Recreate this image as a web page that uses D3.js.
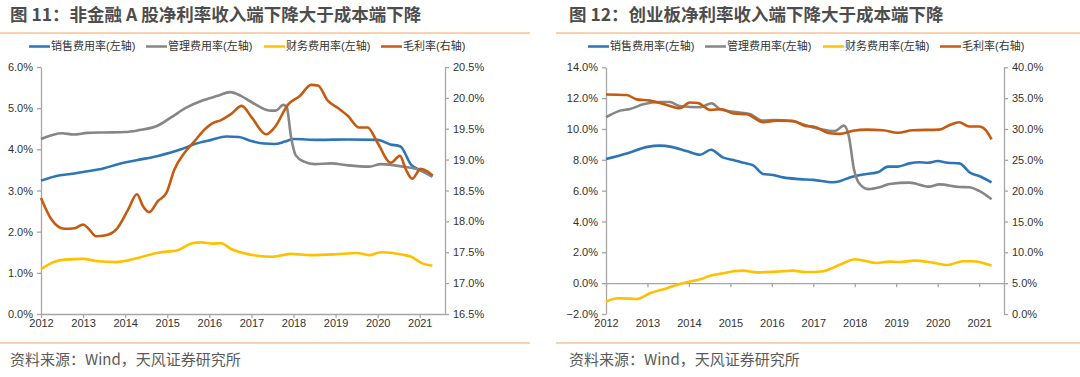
<!DOCTYPE html>
<html>
<head>
<meta charset="utf-8">
<script src="https://cdn.jsdelivr.net/npm/d3@7"></script>
<style>
body { margin: 0; background: #fff; }
svg { display: block; font-family: "Liberation Sans", "Noto Sans CJK SC", sans-serif; }
</style>
</head>
<body>
<svg width="1080" height="377"></svg>
<script>
// ---- data (years as decimal, values in %) ----
const yearTicks = [2012, 2013, 2014, 2015, 2016, 2017, 2018, 2019, 2020, 2021];
const legendNames = ["销售费用率(左轴)", "管理费用率(左轴)", "财务费用率(左轴)", "毛利率(右轴)"];
const titles = ["图 11：非金融 A 股净利率收入端下降大于成本端下降", "图 12：创业板净利率收入端下降大于成本端下降"];
const sourceText = "资料来源：Wind，天风证券研究所";

const leftTicksA = [0, 1, 2, 3, 4, 5, 6];
const rightTicksA = [16.5, 17, 17.5, 18, 18.5, 19, 19.5, 20, 20.5];
const leftTicksB = [-2, 0, 2, 4, 6, 8, 10, 12, 14];
const rightTicksB = [0, 5, 10, 15, 20, 25, 30, 35, 40];

// 图11 非金融A股
const nfSales = [[2012, 3.24], [2012.45, 3.37], [2012.7, 3.40], [2013.0, 3.45], [2013.5, 3.54], [2013.83, 3.64],
  [2014.3, 3.74], [2014.78, 3.84], [2015.33, 4.0], [2015.65, 4.13], [2016.05, 4.23], [2016.4, 4.31], [2016.7, 4.30],
  [2017.0, 4.2], [2017.3, 4.14], [2017.55, 4.13], [2017.8, 4.19], [2018.0, 4.25], [2018.6, 4.23], [2019.3, 4.24],
  [2020.0, 4.23], [2020.3, 4.12], [2020.54, 4.07], [2020.8, 3.62], [2021.0, 3.5], [2021.3, 3.34]];
const nfAdmin = [[2012, 4.25], [2012.5, 4.39], [2012.78, 4.36], [2013.1, 4.40], [2013.5, 4.41], [2014.0, 4.42],
  [2014.3, 4.46], [2014.78, 4.58], [2015.1, 4.78], [2015.43, 5.0], [2015.82, 5.18], [2016.2, 5.30], [2016.5, 5.39],
  [2016.75, 5.30], [2017.0, 5.15], [2017.45, 4.94], [2017.58, 4.94], [2017.76, 5.08], [2017.84, 5.02], [2017.94, 4.31],
  [2018.05, 3.86], [2018.25, 3.70], [2018.5, 3.64], [2018.9, 3.66], [2019.3, 3.61], [2019.8, 3.58], [2020.07, 3.64],
  [2020.6, 3.58], [2021.0, 3.5], [2021.3, 3.34]];
const nfFinance = [[2012, 1.09], [2012.32, 1.27], [2012.56, 1.32], [2013.0, 1.34], [2013.35, 1.28], [2013.79, 1.26],
  [2014.3, 1.36], [2014.78, 1.49], [2015.25, 1.55], [2015.57, 1.71], [2015.81, 1.74], [2016.09, 1.71], [2016.28, 1.72],
  [2016.52, 1.58], [2016.85, 1.47], [2017.1, 1.42], [2017.5, 1.39], [2017.95, 1.46], [2018.4, 1.43], [2019.0, 1.45],
  [2019.5, 1.48], [2019.8, 1.43], [2020.07, 1.5], [2020.6, 1.44], [2020.8, 1.39], [2021.06, 1.23], [2021.3, 1.17]];
const nfGross = [[2012, 18.38], [2012.25, 18.03], [2012.56, 17.88], [2012.8, 17.89], [2013.0, 17.95], [2013.12, 17.89],
  [2013.31, 17.76], [2013.51, 17.77], [2013.79, 17.87], [2014.07, 18.19], [2014.28, 18.44], [2014.42, 18.25],
  [2014.57, 18.15], [2014.78, 18.33], [2014.98, 18.46], [2015.17, 18.84], [2015.41, 19.11], [2015.65, 19.30],
  [2015.89, 19.49], [2016.05, 19.58], [2016.28, 19.64], [2016.52, 19.74], [2016.77, 19.87], [2017.01, 19.68],
  [2017.35, 19.41], [2017.55, 19.52], [2017.87, 19.89], [2018.15, 20.03], [2018.42, 20.21], [2018.58, 20.20],
  [2018.82, 19.95], [2019.05, 19.84], [2019.29, 19.71], [2019.56, 19.52], [2019.76, 19.52], [2020.0, 19.27],
  [2020.31, 18.95], [2020.53, 19.06], [2020.67, 18.84], [2020.82, 18.69], [2021.02, 18.85], [2021.18, 18.81],
  [2021.31, 18.74]];

// 图12 创业板
const gemSales = [[2012, 8.05], [2012.5, 8.41], [2013.0, 8.84], [2013.3, 8.92], [2013.58, 8.84], [2013.94, 8.57],
  [2014.27, 8.33], [2014.53, 8.65], [2014.83, 8.14], [2015.07, 7.99], [2015.31, 7.81], [2015.55, 7.64], [2015.79, 7.08],
  [2016.03, 7.02], [2016.27, 6.86], [2016.67, 6.75], [2017.0, 6.70], [2017.48, 6.54], [2017.64, 6.61], [2017.88, 6.86],
  [2018.28, 7.08], [2018.56, 7.19], [2018.8, 7.56], [2019.04, 7.56], [2019.32, 7.77], [2019.56, 7.84], [2019.76, 7.81],
  [2020.0, 7.92], [2020.24, 7.81], [2020.52, 7.77], [2020.8, 7.13], [2021.0, 6.95], [2021.3, 6.54]];
const gemAdmin = [[2012, 10.76], [2012.34, 11.19], [2012.58, 11.30], [2012.9, 11.6], [2013.3, 11.75], [2013.54, 11.75],
  [2013.78, 11.49], [2014.27, 11.41], [2014.55, 11.67], [2014.75, 11.28], [2015.07, 11.12], [2015.47, 10.97],
  [2015.79, 10.54], [2016.03, 10.58], [2016.51, 10.51], [2016.8, 10.26], [2017.16, 10.0], [2017.52, 9.86],
  [2017.74, 10.22], [2017.86, 9.5], [2017.98, 7.4], [2018.1, 6.5], [2018.33, 6.1], [2018.6, 6.22], [2018.84, 6.43],
  [2019.32, 6.52], [2019.8, 6.26], [2020.04, 6.41], [2020.52, 6.24], [2020.76, 6.22], [2021.0, 5.98], [2021.3, 5.44]];
const gemFinance = [[2012, -1.2], [2012.3, -0.98], [2012.74, -1.03], [2013.06, -0.66], [2013.46, -0.34], [2013.78, -0.05],
  [2014.02, 0.1], [2014.27, 0.25], [2014.55, 0.51], [2014.83, 0.64], [2015.07, 0.77], [2015.31, 0.81], [2015.63, 0.70],
  [2016.11, 0.75], [2016.51, 0.81], [2016.8, 0.72], [2017.0, 0.72], [2017.24, 0.77], [2017.48, 1.01], [2017.72, 1.29],
  [2018.0, 1.55], [2018.52, 1.31], [2018.84, 1.4], [2019.08, 1.37], [2019.44, 1.46], [2019.88, 1.33], [2020.24, 1.18],
  [2020.6, 1.42], [2020.84, 1.42], [2021.3, 1.14]];
const gemGross = [[2012, 35.6], [2012.5, 35.5], [2012.74, 34.8], [2013.06, 34.6], [2013.46, 33.9], [2013.78, 33.35],
  [2014.02, 34.3], [2014.22, 34.2], [2014.51, 33.1], [2014.79, 33.2], [2015.07, 32.5], [2015.39, 32.4], [2015.79, 31.1],
  [2016.11, 31.35], [2016.51, 31.3], [2016.8, 30.5], [2017.0, 30.4], [2017.4, 29.3], [2017.64, 29.2], [2017.96, 29.7],
  [2018.28, 29.9], [2018.68, 29.8], [2019.04, 29.4], [2019.4, 29.8], [2020.04, 29.9], [2020.28, 30.6], [2020.52, 31.1],
  [2020.76, 30.4], [2021.0, 30.4], [2021.16, 29.8], [2021.3, 28.3]];

const colors = ["#2e75b6", "#868686", "#ffc000", "#c55a11"];
const axisColor = "#a6a6a6";
const orangeRule = "#f4a460";

var svg = d3.select("svg");

function drawPanel(p) {
    var g = svg.append("g");

    // title + rules
    g.append("text")
        .attr("x", p.titleX).attr("y", 20.5)
        .attr("font-family", "'Noto Sans CJK SC', sans-serif")
        .attr("font-size", 17.5).attr("font-weight", "bold")
        .attr("fill", "#4d4d4d")
        .text(p.title);
    g.append("line").attr("x1", p.ruleX1).attr("x2", p.ruleX2).attr("y1", 33).attr("y2", 33)
        .attr("stroke", orangeRule).attr("stroke-width", 1.2);
    g.append("line").attr("x1", p.ruleX1).attr("x2", p.ruleX2).attr("y1", 343).attr("y2", 343)
        .attr("stroke", orangeRule).attr("stroke-width", 1.2);
    g.append("text")
        .attr("x", p.titleX).attr("y", 365)
        .attr("font-family", "'Noto Sans CJK SC', sans-serif")
        .attr("font-size", 15).attr("fill", "#595959")
        .text(sourceText);

    // legend
    var leg = g.selectAll(".leg").data(legendNames).enter().append("g")
        .attr("transform", (d, i) => "translate(" + p.legendX[i] + ",46.5)");
    leg.append("line").attr("x1", 0).attr("x2", 21)
        .attr("stroke", (d, i) => colors[i]).attr("stroke-width", 2.5);
    leg.append("text").attr("x", 22).attr("dy", "0.35em")
        .attr("font-size", 11).attr("fill", "#333")
        .text(d => d);

    var x = d3.scaleLinear().domain([2012, 2021.6]).range([p.x0, p.x1]);
    var yL = d3.scaleLinear().domain(p.leftDomain).range([p.yBottom, p.yTop]);
    var yR = d3.scaleLinear().domain(p.rightDomain).range([p.yBottom, p.yTop]);
    var fmt = d => d3.format(".1f")(d) + "%";

    var axL = g.append("g").attr("transform", "translate(" + p.x0 + ",0)")
        .call(d3.axisLeft(yL).tickValues(p.leftTicks).tickFormat(fmt).tickSize(4).tickSizeOuter(0));
    var axR = g.append("g").attr("transform", "translate(" + p.x1 + ",0)")
        .call(d3.axisRight(yR).tickValues(p.rightTicks).tickFormat(fmt).tickSize(4).tickSizeOuter(0));
    var axB = g.append("g").attr("transform", "translate(0," + yL(p.baseValue) + ")")
        .call(d3.axisBottom(x).tickValues(yearTicks).tickFormat("").tickSize(4).tickSizeOuter(0));
    var axLab = g.append("g").attr("transform", "translate(0," + p.yBottom + ")")
        .call(d3.axisBottom(x).tickValues(yearTicks).tickFormat(d3.format("d")).tickSize(0));
    axLab.select(".domain").remove();
    axLab.selectAll("text").attr("dy", "0.95em");

    [axL, axR, axB, axLab].forEach(a => {
        a.selectAll(".domain").attr("stroke", axisColor).attr("stroke-width", 1.3);
        a.selectAll(".tick line").attr("stroke", axisColor).attr("stroke-width", 1.3);
        a.selectAll("text").attr("font-size", 11).attr("fill", "#333")
            .attr("font-family", "'Liberation Sans', sans-serif");
    });
    axL.selectAll("text").attr("x", -8);
    axR.selectAll("text").attr("x", 8);

    var lineL = d3.line().x(d => x(d[0])).y(d => yL(d[1])).curve(d3.curveMonotoneX);
    var lineR = d3.line().x(d => x(d[0])).y(d => yR(d[1])).curve(d3.curveMonotoneX);

    p.series.forEach((s, i) => {
        g.append("path")
            .datum(s)
            .attr("fill", "none")
            .attr("stroke", colors[i])
            .attr("stroke-width", 2.6)
            .attr("stroke-linejoin", "round")
            .attr("d", i === 3 ? lineR : lineL);
    });
}

drawPanel({
    title: titles[0], titleX: 10, ruleX1: 0, ruleX2: 530,
    legendX: [29, 146, 264, 381],
    x0: 41, x1: 445, yTop: 67, yBottom: 314,
    leftDomain: [0, 6], rightDomain: [16.5, 20.5], baseValue: 0,
    leftTicks: leftTicksA, rightTicks: rightTicksA,
    series: [nfSales, nfAdmin, nfFinance, nfGross]
});

drawPanel({
    title: titles[1], titleX: 569, ruleX1: 556, ruleX2: 1080,
    legendX: [588, 705, 823, 940],
    x0: 606, x1: 1004, yTop: 67.3, yBottom: 314,
    leftDomain: [-2, 14], rightDomain: [0, 40], baseValue: 0,
    leftTicks: leftTicksB, rightTicks: rightTicksB,
    series: [gemSales, gemAdmin, gemFinance, gemGross]
});
</script>
</body>
</html>
